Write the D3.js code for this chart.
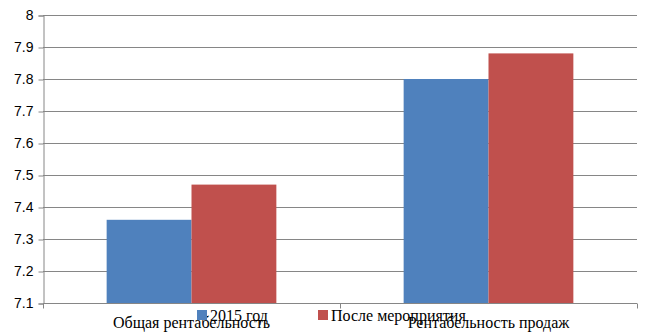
<!DOCTYPE html>
<html>
<head>
<meta charset="utf-8">
<script src="https://cdn.jsdelivr.net/npm/d3@7"></script>
<style>
  body { margin: 0; background: #fff; }
</style>
</head>
<body>
<script>
var categories = ["Общая рентабельность", "Рентабельность продаж"];
var seriesNames = ["2015 год", "После мероприятия"];
var values2015 = [7.36, 7.8];
var valuesAfter = [7.47, 7.88];
var yTicks = [7.1, 7.2, 7.3, 7.4, 7.5, 7.6, 7.7, 7.8, 7.9, 8];
var colors = ["#4F81BD", "#C0504D"];

var w = 650, h = 336;
var plotLeft = 43, plotRight = 637, plotTop = 15, plotBottom = 303;

var svg = d3.select("body").append("svg").attr("width", w).attr("height", h);

var x = d3.scaleBand().domain(categories).range([plotLeft, plotRight]);
var x1 = d3.scaleBand().domain(seriesNames).range([0, x.bandwidth()]).paddingInner(0).paddingOuter(0.75);
var y = d3.scaleLinear().domain([7.1, 8]).range([plotBottom, plotTop]);

// gridlines
svg.selectAll("line.grid").data(yTicks.slice(1)).enter().append("line")
  .attr("x1", plotLeft).attr("x2", plotRight)
  .attr("y1", function(d) { return Math.round(y(d)) + 0.5; })
  .attr("y2", function(d) { return Math.round(y(d)) + 0.5; })
  .attr("stroke", "#868686").attr("stroke-width", 1);

// bars
var rows = categories.map(function(c, i) {
  return [{cat: c, s: seriesNames[0], v: values2015[i]}, {cat: c, s: seriesNames[1], v: valuesAfter[i]}];
});
svg.selectAll("g.grp").data(rows).enter().append("g")
  .attr("transform", function(d) { return "translate(" + x(d[0].cat) + ",0)"; })
  .selectAll("rect").data(function(d) { return d; }).enter().append("rect")
  .attr("x", function(d) { return x1(d.s); })
  .attr("width", x1.bandwidth())
  .attr("y", function(d) { return y(d.v); })
  .attr("height", function(d) { return plotBottom - y(d.v); })
  .attr("fill", function(d, i) { return colors[i]; });

// y axis
var yAxis = svg.append("g").attr("transform", "translate(" + (plotLeft + 0.5) + ",0.5)")
  .call(d3.axisLeft(y).tickValues(yTicks).tickSize(5).tickPadding(5).tickFormat(d3.format("")));
yAxis.select(".domain").attr("stroke", "#868686");
yAxis.selectAll(".tick line").attr("stroke", "#868686");
yAxis.selectAll("text").attr("font-family", "Liberation Sans, sans-serif").attr("font-size", 14).attr("fill", "#000");

// x axis
var xAxis = svg.append("g").attr("transform", "translate(0," + (plotBottom + 0.5) + ")");
xAxis.append("line").attr("x1", plotLeft).attr("x2", plotRight).attr("stroke", "#868686");
xAxis.selectAll("line.tk").data([plotLeft, plotLeft + x.bandwidth(), plotRight]).enter().append("line")
  .attr("x1", function(d) { return Math.round(d) + 0.5; })
  .attr("x2", function(d) { return Math.round(d) + 0.5; })
  .attr("y1", 0).attr("y2", 5).attr("stroke", "#868686");
xAxis.selectAll("text").data(categories).enter().append("text")
  .attr("x", function(d) { return x(d) + x.bandwidth() / 2; })
  .attr("y", 24)
  .attr("text-anchor", "middle")
  .attr("font-family", "Liberation Serif, serif").attr("font-size", 16)
  .text(function(d) { return d; });

// legend
var legX = [197, 318];
var leg = svg.selectAll("g.leg").data(seriesNames).enter().append("g")
  .attr("transform", function(d, i) { return "translate(" + legX[i] + ",310)"; });
leg.append("rect").attr("width", 10).attr("height", 10).attr("fill", function(d, i) { return colors[i]; });
leg.append("text").attr("x", 13).attr("y", 11)
  .attr("font-family", "Liberation Serif, serif").attr("font-size", 16)
  .text(function(d) { return d; });
</script>
</body>
</html>
